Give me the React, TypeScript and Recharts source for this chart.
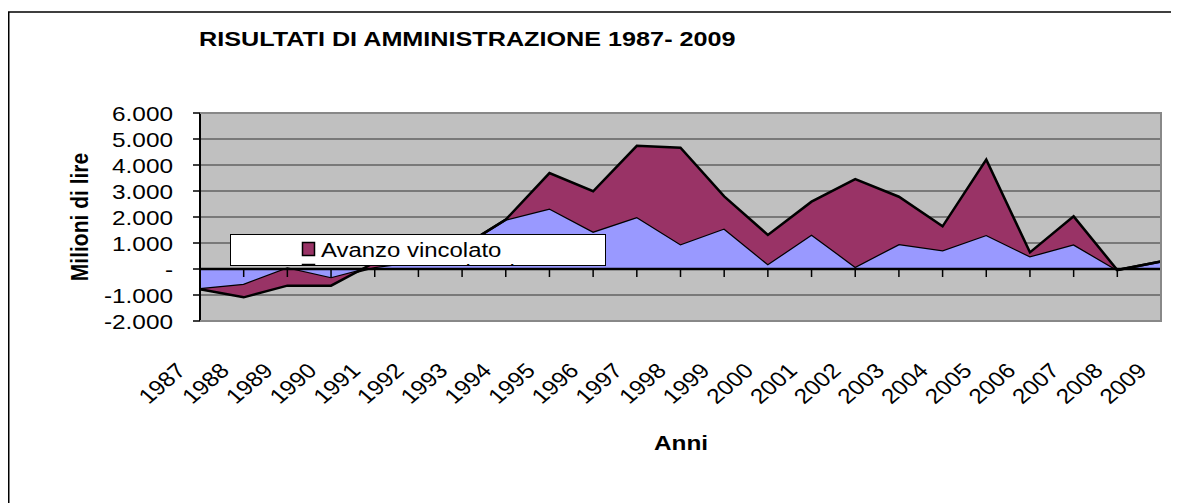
import React from 'react';
import { AreaChart, Area, XAxis, YAxis, CartesianGrid, ReferenceLine } from 'recharts';

// dati (milioni di lire)
const anni = ['1987', '1988', '1989', '1990', '1991', '1992', '1993', '1994', '1995', '1996', '1997', '1998',
  '1999', '2000', '2001', '2002', '2003', '2004', '2005', '2006', '2007', '2008', '2009'];
const avanzoNonVincolato = [-780, -615, 20, -360, 80, 300, 850, 1900, 2330, 1440, 2000, 955,
  1560, 190, 1330, 90, 960, 720, 1310, 490, 950, -40, 290];
const avanzoVincolato = [0, -475, -660, -280, 170, 100, 0, 0, 1360, 1550, 2740, 3710,
  1235, 1120, 1260, 3370, 1820, 920, 2895, 150, 1075, 0, 0];
const yTicks = [-2000, -1000, 0, 1000, 2000, 3000, 4000, 5000, 6000];

const data = anni.map((anno, i) => ({
  anno,
  nonVincolato: avanzoNonVincolato[i],
  vincolato: avanzoVincolato[i],
}));

const FONT = '"Liberation Sans", Arial, sans-serif';
const SX = 1.16; // the original picture is a bit stretched horizontally

const W = 1171;
const H = 495;
const M_TOP = 105;
const PLOT_H = 208;
const PLOT_LEFT = 192;
const PLOT_RIGHT = 1153;
const PLOT_BOTTOM = M_TOP + PLOT_H;
const ZERO_Y = M_TOP + (6000 / 8000) * PLOT_H;

const fmt = (v: number) => {
  if (v === 0) return '-';
  const s = Math.abs(v).toString().replace(/\B(?=(\d{3})+(?!\d))/g, '.');
  return (v < 0 ? '-' : '') + s;
};

const XTick = (props: any) => {
  const { x, payload } = props;
  return (
    <g>
      <line x1={x} y1={ZERO_Y} x2={x} y2={ZERO_Y + 8} stroke="#000" strokeWidth={1.5} />
      <text
        transform={`translate(${x - 13}, ${PLOT_BOTTOM + 51}) scale(${SX}, 1) rotate(-45)`}
        textAnchor="end"
        fontSize={21}
        fontFamily={FONT}
        fill="#000"
      >
        {payload.value}
      </text>
    </g>
  );
};

const YTick = (props: any) => {
  const { y, payload } = props;
  return (
    <text
      transform={`translate(${PLOT_LEFT - 27}, ${y + 7.5}) scale(${SX}, 1)`}
      textAnchor="end"
      fontSize={21}
      fontFamily={FONT}
      fill="#000"
    >
      {fmt(payload.value)}
    </text>
  );
};

export default function App() {
  return (
    <div style={{ position: 'relative', width: W, height: H, fontFamily: FONT }}>
      <AreaChart
        width={W}
        height={H}
        data={data}
        margin={{ top: M_TOP, right: W - PLOT_RIGHT, bottom: 0, left: PLOT_LEFT - 120 }}
      >
        <CartesianGrid vertical={false} stroke="#333" strokeWidth={1} fill="#C0C0C0" fillOpacity={1} />
        <XAxis
          dataKey="anno"
          height={H - PLOT_BOTTOM}
          axisLine={false}
          tickLine={false}
          interval={0}
          tick={<XTick />}
        />
        <YAxis
          type="number"
          width={120}
          domain={[-2000, 6000]}
          ticks={yTicks}
          interval={0}
          axisLine={{ stroke: '#000', strokeWidth: 2 }}
          tickLine={{ stroke: '#000', strokeWidth: 1.5 }}
          tickSize={7}
          tick={<YTick />}
        />
        <Area
          type="linear"
          dataKey="nonVincolato"
          stackId="a"
          stroke="#000"
          strokeWidth={2.5}
          fill="#9999FF"
          fillOpacity={1}
          dot={false}
          activeDot={false}
          isAnimationActive={false}
        />
        <Area
          type="linear"
          dataKey="vincolato"
          stackId="a"
          stroke="#000"
          strokeWidth={2.5}
          fill="#993366"
          fillOpacity={1}
          dot={false}
          activeDot={false}
          isAnimationActive={false}
        />
        <ReferenceLine y={0} stroke="#000" strokeWidth={2.5} />
      </AreaChart>

      {/* cornice, titoli e legenda */}
      <svg
        width={W}
        height={H}
        style={{ position: 'absolute', left: 0, top: 0, pointerEvents: 'none' }}
      >
        <rect x={0.75} y={4} width={1168} height={600} fill="none" stroke="#000" strokeWidth={1.5} />
        <path
          d={`M${PLOT_LEFT} ${M_TOP} H${PLOT_RIGHT} V${PLOT_BOTTOM} H${PLOT_LEFT}`}
          fill="none"
          stroke="#888"
          strokeWidth={2}
        />
        <text
          transform={`translate(191, 38) scale(1.2, 1)`}
          fontSize={21}
          fontWeight="bold"
          fill="#000"
        >
          RISULTATI DI AMMINISTRAZIONE 1987- 2009
        </text>
        <text
          transform={`translate(71, 209) scale(${SX}, 1) rotate(-90)`}
          textAnchor="middle"
          y={7.5}
          fontSize={21}
          fontWeight="bold"
          fill="#000"
        >
          Milioni di lire
        </text>
        <text
          transform={`translate(673, 442) scale(${SX}, 1)`}
          textAnchor="middle"
          fontSize={21}
          fontWeight="bold"
          fill="#000"
        >
          Anni
        </text>

        <defs>
          <clipPath id="legendClip">
            <rect x={222} y={226} width={375} height={31} />
          </clipPath>
        </defs>
        <rect x={222.5} y={226.5} width={375} height={31} fill="#fff" stroke="#000" strokeWidth={1} />
        <g clipPath="url(#legendClip)">
          <rect x={294.5} y={234.5} width={12} height={13} fill="#993366" stroke="#000" strokeWidth={1.5} />
          <text transform={`translate(313, 248.5) scale(1.14, 1)`} fontSize={21} fill="#000">
            Avanzo vincolato
          </text>
          <rect x={294.5} y={256.5} width={12} height={13} fill="#9999FF" stroke="#000" strokeWidth={1.5} />
          <text transform={`translate(313, 271) scale(1.14, 1)`} fontSize={21} fill="#000">
            Avanzo non vincolato
          </text>
        </g>
      </svg>
    </div>
  );
}
